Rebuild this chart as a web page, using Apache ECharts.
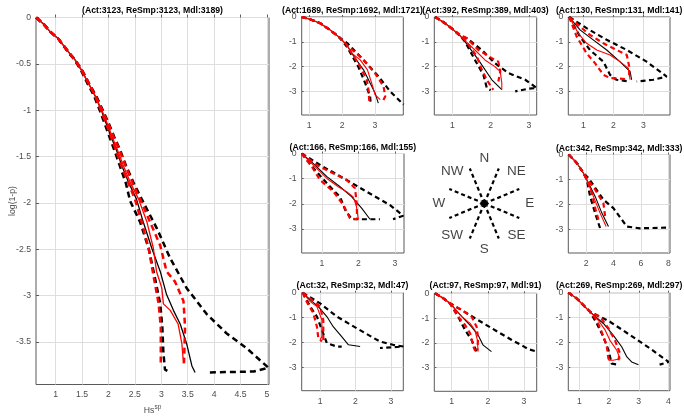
<!DOCTYPE html>
<html><head><meta charset="utf-8">
<script src="https://cdn.jsdelivr.net/npm/echarts@6/dist/echarts.min.js"></script>
<style>html,body{margin:0;padding:0;background:#fff}#c{width:684px;height:420px}</style>
</head><body><div id="c"></div><script>
// ---------- titles / ticks ----------
const panelTitles = ['(Act:3123, ReSmp:3123, Mdl:3189)','(Act:1689, ReSmp:1692, Mdl:1721)','(Act:392, ReSmp:389, Mdl:403)','(Act:130, ReSmp:131, Mdl:141)','(Act:166, ReSmp:166, Mdl:155)','(Act:342, ReSmp:342, Mdl:333)','(Act:32, ReSmp:32, Mdl:47)','(Act:97, ReSmp:97, Mdl:91)','(Act:269, ReSmp:269, Mdl:297)'];
const panelXRange = [[0.627,5.04],[0.77,3.86],[0.53,3.2],[0.5,3.89],[0.45,3.25],[0.7,8.12],[0.48,3.35],[0.52,3.35],[0.63,4.05]];
const panelXTicks = [[1,1.5,2,2.5,3,3.5,4,4.5,5],[1,2,3],[1,2,3],[1,2,3],[1,2,3],[2,4,6,8],[1,2,3],[1,2,3],[1,2,3,4]];
const mainYTicks = [0,-0.5,-1,-1.5,-2,-2.5,-3,-3.5];
const smallYTicks = [0,-1,-2,-3];
const mainYRange = [-3.96,0];
const smallYRange = [-3.95,0];
const compassLabels = ['E','NE','N','NW','W','SW','S','SE'];
const compassLabelAngles = [0,45,90,135,180,225,270,315];
const compassSpokeAngles = [22.5,67.5,112.5,157.5,202.5,247.5,292.5,337.5];

// ---------- main panel ----------
const mainBlkLo = [[0.63,0],[0.77,-0.07],[0.89,-0.15],[1.05,-0.23],[1.23,-0.37],[1.36,-0.46],[1.48,-0.57],[1.6,-0.71],[1.73,-0.85],[1.84,-1.01],[1.93,-1.15],[2.02,-1.29],[2.11,-1.43],[2.22,-1.61],[2.33,-1.79],[2.41,-1.98],[2.6,-2.21],[2.76,-2.49],[2.88,-2.81],[2.98,-3.09],[3.02,-3.34],[3.04,-3.62],[3.07,-3.8],[3.17,-3.83]];
const mainBlkHi = [[0.63,0],[0.77,-0.07],[0.89,-0.15],[1.05,-0.23],[1.24,-0.37],[1.37,-0.46],[1.5,-0.57],[1.63,-0.71],[1.77,-0.85],[1.9,-1.01],[2.01,-1.15],[2.11,-1.29],[2.22,-1.43],[2.34,-1.61],[2.48,-1.79],[2.63,-1.96],[2.92,-2.28],[3.17,-2.6],[3.48,-2.92],[3.86,-3.2],[4.24,-3.41],[4.62,-3.57],[5.03,-3.78],[4.75,-3.82],[3.86,-3.83]];
const mainBlk = [[0.63,0],[0.77,-0.07],[0.89,-0.15],[1.05,-0.23],[1.24,-0.37],[1.37,-0.46],[1.49,-0.57],[1.62,-0.71],[1.75,-0.85],[1.87,-1.01],[1.96,-1.15],[2.05,-1.29],[2.15,-1.43],[2.26,-1.61],[2.39,-1.79],[2.53,-1.96],[2.66,-2.21],[2.82,-2.49],[2.98,-2.74],[3.1,-2.99],[3.23,-3.16],[3.36,-3.31],[3.48,-3.52],[3.58,-3.76],[3.64,-3.83]];
const mainRed = [[0.63,0],[0.77,-0.07],[0.89,-0.15],[1.05,-0.23],[1.24,-0.37],[1.37,-0.46],[1.49,-0.57],[1.62,-0.71],[1.75,-0.85],[1.88,-1.01],[1.98,-1.15],[2.07,-1.29],[2.17,-1.43],[2.29,-1.61],[2.42,-1.79],[2.57,-1.96],[2.73,-2.21],[2.85,-2.49],[2.91,-2.74],[3.01,-2.92],[3.04,-3.09],[3.17,-3.16],[3.32,-3.31],[3.39,-3.52],[3.42,-3.73]];
const mainRedLo = [[0.63,0],[0.77,-0.07],[0.89,-0.15],[1.05,-0.23],[1.24,-0.37],[1.37,-0.46],[1.49,-0.57],[1.62,-0.71],[1.75,-0.85],[1.86,-1.01],[1.96,-1.15],[2.05,-1.29],[2.14,-1.43],[2.25,-1.61],[2.38,-1.79],[2.5,-1.96],[2.63,-2.21],[2.76,-2.49],[2.86,-2.81],[2.95,-3.09],[2.99,-3.34],[2.99,-3.73]];
const mainRedHi = [[0.63,0],[0.77,-0.07],[0.89,-0.15],[1.05,-0.23],[1.24,-0.37],[1.37,-0.46],[1.5,-0.57],[1.63,-0.71],[1.76,-0.85],[1.89,-1.01],[2.0,-1.15],[2.1,-1.29],[2.21,-1.43],[2.33,-1.61],[2.46,-1.79],[2.6,-1.96],[2.79,-2.21],[2.98,-2.46],[3.1,-2.74],[3.26,-2.85],[3.42,-3.06],[3.45,-3.34],[3.43,-3.73]];

// ---------- panel A (1689) ----------
const aBlkLo = [[0.77,0],[1.02,-0.09],[1.33,-0.25],[1.63,-0.52],[1.89,-0.79],[2.14,-1.19],[2.49,-2.0],[2.7,-2.66],[2.85,-3.2],[2.87,-3.53]];
const aBlkHi = [[0.77,0],[1.02,-0.09],[1.33,-0.25],[1.63,-0.52],[1.89,-0.79],[2.16,-1.06],[2.65,-1.73],[3.11,-2.4],[3.46,-3.0],[3.87,-3.53]];
const aBlk = [[0.77,0],[1.02,-0.09],[1.33,-0.25],[1.63,-0.52],[1.89,-0.79],[2.14,-1.12],[2.29,-1.46],[2.65,-2.13],[2.85,-2.66],[3.0,-3.06],[3.1,-3.47]];
const aRed = [[0.77,0],[1.02,-0.09],[1.33,-0.25],[1.63,-0.52],[1.89,-0.79],[2.14,-1.12],[2.29,-1.46],[2.55,-1.73],[2.77,-2.13],[2.93,-2.8],[3.0,-3.13],[3.16,-3.33]];
const aRedLo = [[0.77,0],[1.02,-0.09],[1.33,-0.25],[1.63,-0.52],[1.89,-0.79],[2.14,-1.12],[2.29,-1.46],[2.55,-2.0],[2.75,-2.53],[2.8,-2.93],[2.83,-3.47]];
const aRedHi = [[0.77,0],[1.02,-0.09],[1.33,-0.25],[1.63,-0.52],[1.89,-0.79],[2.19,-1.19],[2.6,-1.66],[3.0,-2.26],[3.26,-2.8],[3.31,-3.2],[3.21,-3.47]];

// ---------- panel B (392) ----------
const bBlkLo = [[0.55,0],[0.81,-0.25],[1.03,-0.52],[1.2,-0.75],[1.33,-0.99],[1.59,-1.73],[1.81,-2.33],[1.9,-2.86],[2.0,-2.95]];
const bBlkHi = [[0.55,0],[0.81,-0.25],[1.03,-0.52],[1.2,-0.75],[1.38,-0.86],[1.77,-1.33],[2.11,-1.86],[2.46,-2.26],[2.9,-2.53],[3.2,-2.86],[2.98,-2.89],[2.64,-3.0]];
const bBlk = [[0.55,0],[0.81,-0.25],[1.03,-0.52],[1.2,-0.75],[1.33,-0.99],[1.68,-1.73],[2.03,-2.53],[2.29,-2.93]];
const bRed = [[0.55,0],[0.81,-0.25],[1.03,-0.52],[1.2,-0.75],[1.33,-0.95],[1.59,-1.33],[1.85,-1.73],[2.11,-2.0],[2.25,-2.2],[2.29,-2.66],[2.29,-2.93]];
const bRedLo = [[0.55,0],[0.81,-0.25],[1.03,-0.52],[1.2,-0.75],[1.33,-0.92],[1.64,-1.59],[1.77,-2.13],[1.9,-2.53],[2.03,-2.86],[2.07,-2.93]];
const bRedHi = [[0.55,0],[0.81,-0.25],[1.03,-0.52],[1.2,-0.72],[1.38,-0.86],[1.68,-1.33],[2.03,-1.66],[2.2,-1.8],[2.25,-2.2],[2.2,-2.6]];

// ---------- panel C (130) ----------
const cBlkLo = [[0.53,0],[0.89,-0.79],[1.22,-1.33],[1.67,-1.8],[1.89,-2.33],[2.11,-2.53],[2.56,-2.6]];
const cBlkHi = [[0.53,0],[1.11,-0.45],[1.78,-0.92],[2.45,-1.33],[3.11,-1.8],[3.78,-2.4],[3.33,-2.53],[2.78,-2.6]];
const cBlk = [[0.53,0],[0.89,-0.52],[1.33,-0.92],[1.78,-1.33],[2.22,-1.8],[2.56,-2.2],[2.61,-2.53]];
const cRed = [[0.53,0],[0.83,-0.65],[1.11,-1.06],[1.45,-1.33],[1.89,-1.53],[2.22,-1.8],[2.5,-2.06],[2.56,-2.53]];
const cRedLo = [[0.53,0],[0.78,-0.79],[1.11,-1.46],[1.39,-1.86],[1.67,-2.33],[1.89,-2.46],[2.4,-2.5]];
const cRedHi = [[0.53,0],[0.89,-0.39],[1.22,-0.72],[1.67,-1.06],[2.11,-1.33],[2.45,-1.53],[2.53,-2.0],[2.53,-2.46]];

// ---------- panel D (166) ----------
const dBlkLo = [[0.45,0],[0.82,-0.66],[1.18,-1.25],[1.5,-1.72],[1.64,-2.24],[1.82,-2.61],[2.59,-2.61]];
const dBlkHi = [[0.45,0],[1.04,-0.53],[1.68,-1.05],[2.23,-1.52],[2.86,-2.04],[3.23,-2.47],[2.95,-2.61]];
const dBlk = [[0.45,0],[0.77,-0.4],[1.14,-0.92],[1.5,-1.32],[1.82,-1.72],[2.09,-2.17],[2.32,-2.61]];
const dRed = [[0.45,0],[0.77,-0.46],[1.14,-0.99],[1.45,-1.32],[1.68,-1.52],[1.86,-1.72],[1.95,-2.11],[2.0,-2.61]];
const dRedLo = [[0.45,0],[0.73,-0.53],[0.95,-1.05],[1.32,-1.52],[1.59,-2.04],[1.77,-2.57],[1.97,-2.61]];
const dRedHi = [[0.45,0],[0.86,-0.46],[1.32,-0.79],[1.68,-1.05],[1.91,-1.38],[1.95,-1.91],[1.97,-2.61]];

// ---------- panel E (342) ----------
const eBlkLo = [[0.72,0],[1.32,-0.34],[1.8,-0.74],[2.05,-1.01],[2.29,-1.68],[2.66,-2.35],[3.02,-2.96]];
const eBlkHi = [[0.72,0],[1.32,-0.34],[1.8,-0.74],[2.17,-0.94],[3.26,-1.81],[3.99,-2.15],[4.97,-2.89],[5.94,-2.96],[8.01,-2.93]];
const eBlk = [[0.72,0],[1.32,-0.34],[1.8,-0.74],[2.05,-1.01],[2.66,-1.68],[3.15,-2.35],[3.63,-2.89]];
const eRed = [[0.72,0],[1.32,-0.34],[1.8,-0.74],[2.05,-1.01],[2.53,-1.68],[3.02,-2.35],[3.46,-2.89]];
const eRedLo = [[0.72,0],[1.32,-0.34],[1.8,-0.74],[2.05,-1.01],[2.42,-1.55],[2.66,-2.15],[2.9,-2.62]];
const eRedHi = [[0.72,0],[1.32,-0.34],[1.8,-0.74],[2.1,-1.0],[2.66,-1.41],[3.26,-1.95],[3.39,-2.49]];

// ---------- panel F (32) ----------
const fBlkLo = [[0.51,0],[0.72,-0.56],[0.91,-0.96],[1.05,-1.5],[1.19,-2.03],[1.47,-2.17],[1.61,-2.17]];
const fBlkHi = [[0.51,0],[1.0,-0.43],[1.47,-0.96],[2.03,-1.43],[2.69,-1.97],[3.06,-2.1],[3.35,-2.17],[2.69,-2.23]];
const fBlk = [[0.51,0],[0.72,-0.29],[0.95,-0.56],[1.19,-0.96],[1.37,-1.37],[1.61,-1.77],[1.8,-2.1],[2.13,-2.17]];
const fRed = [[0.51,0],[0.72,-0.36],[0.91,-0.56],[1.05,-1.1],[1.05,-1.77],[1.0,-1.9]];
const fRedLo = [[0.51,0],[0.62,-0.36],[0.81,-0.83],[0.91,-1.37],[0.95,-1.83],[1.05,-1.97]];
const fRedHi = [[0.51,0],[0.77,-0.29],[1.0,-0.56],[1.09,-1.1],[1.09,-1.77],[1.09,-2.03]];

// ---------- panel G (97) ----------
const gBlkLo = [[0.54,0],[0.77,-0.2],[0.95,-0.4],[1.18,-0.94],[1.37,-1.48],[1.55,-1.88],[1.69,-2.35]];
const gBlkHi = [[0.54,0],[0.77,-0.2],[0.95,-0.4],[1.3,-0.7],[1.73,-1.08],[2.19,-1.48],[2.66,-1.88],[3.0,-2.15],[3.12,-2.25],[3.35,-2.35]];
const gBlk = [[0.54,0],[0.77,-0.2],[0.95,-0.4],[1.28,-0.94],[1.55,-1.35],[1.73,-1.68],[1.87,-2.09],[2.1,-2.35]];
const gRed = [[0.54,0],[0.77,-0.2],[0.95,-0.4],[1.28,-0.94],[1.51,-1.21],[1.64,-1.48],[1.71,-1.88],[1.73,-2.35]];
const gRedLo = [[0.54,0],[0.77,-0.2],[0.95,-0.4],[1.18,-0.94],[1.37,-1.28],[1.51,-1.61],[1.6,-2.15],[1.64,-2.29],[1.7,-2.35]];
const gRedHi = [[0.54,0],[0.77,-0.2],[0.95,-0.4],[1.28,-0.67],[1.55,-0.94],[1.69,-1.35],[1.73,-1.82],[1.71,-2.29]];

// ---------- panel H (269) ----------
const hBlkLo = [[0.63,0],[0.91,-0.23],[1.19,-0.57],[1.36,-0.77],[1.59,-1.24],[1.81,-1.78],[1.98,-2.32],[2.09,-2.86],[2.3,-2.9]];
const hBlkHi = [[0.63,0],[0.91,-0.23],[1.19,-0.57],[1.36,-0.77],[2.03,-1.17],[2.71,-1.71],[3.38,-2.25],[4.0,-2.79],[3.7,-2.9]];
const hBlk = [[0.63,0],[0.91,-0.23],[1.19,-0.57],[1.36,-0.77],[1.81,-1.24],[2.14,-1.71],[2.43,-2.19],[2.6,-2.59],[2.76,-2.79],[2.99,-2.9]];
const hRed = [[0.63,0],[0.91,-0.23],[1.19,-0.57],[1.36,-0.77],[1.64,-1.11],[1.87,-1.51],[2.03,-1.92],[2.26,-2.32],[2.37,-2.66],[2.14,-2.72],[1.98,-2.72]];
const hRedLo = [[0.63,0],[0.91,-0.23],[1.19,-0.57],[1.36,-0.77],[1.59,-1.11],[1.75,-1.58],[1.92,-2.12],[1.98,-2.66],[2.09,-2.79]];
const hRedHi = [[0.63,0],[0.91,-0.23],[1.19,-0.57],[1.36,-0.77],[1.7,-0.97],[1.98,-1.44],[2.2,-1.92],[2.37,-2.45],[2.31,-2.72]];

const panelData = [
  [mainBlkLo, mainBlkHi, mainBlk, mainRedLo, mainRedHi, mainRed],
  [aBlkLo, aBlkHi, aBlk, aRedLo, aRedHi, aRed],
  [bBlkLo, bBlkHi, bBlk, bRedLo, bRedHi, bRed],
  [cBlkLo, cBlkHi, cBlk, cRedLo, cRedHi, cRed],
  [dBlkLo, dBlkHi, dBlk, dRedLo, dRedHi, dRed],
  [eBlkLo, eBlkHi, eBlk, eRedLo, eRedHi, eRed],
  [fBlkLo, fBlkHi, fBlk, fRedLo, fRedHi, fRed],
  [gBlkLo, gBlkHi, gBlk, gRedLo, gRedHi, gRed],
  [hBlkLo, hBlkHi, hBlk, hRedLo, hRedHi, hRed]
];

// ---------- layout (styles) ----------
const grids = [
  {left:36, top:17.5, width:233, height:373.5},
  {left:301.7, top:17, width:101.6, height:98},
  {left:434.3, top:17, width:102.4, height:98},
  {left:568.3, top:17, width:101.7, height:98},
  {left:301.7, top:153.5, width:102.3, height:99.5},
  {left:568.3, top:154.5, width:101.7, height:98.5},
  {left:301.7, top:292.7, width:101.6, height:98},
  {left:434.3, top:293.3, width:102.4, height:98},
  {left:568.3, top:292.7, width:101.7, height:98}
];
const titleY = [10.5,10.5,10.5,10.5,148,148.5,285.5,285.5,285.5];

const FONT = '"Liberation Sans", Arial, Helvetica, sans-serif';
const tickColor = '#4d4d4d';
const xAxes = [], yAxes = [], series = [], gridOpts = [], graphics = [];

grids.forEach((g, i) => {
  gridOpts.push(Object.assign({show:true, borderColor:'#5a5a5a', borderWidth:1, containLabel:false}, g));
  const main = i === 0;
  const fs = 8.7;
  xAxes.push({
    type:'value', gridIndex:i, min:panelXRange[i][0], max:panelXRange[i][1],
    axisLine:{show:false},
    axisTick:{show:true, inside:true, length:main?3:2, customValues:panelXTicks[i], lineStyle:{color:'#5a5a5a'}},
    axisLabel:{customValues:panelXTicks[i], fontSize:fs, color:tickColor, margin:6, fontFamily:FONT},
    splitLine:{show:true, lineStyle:{color:'#dedede', width:1}},
    name: main ? 'Hs{s|sp}' : '', nameLocation:'middle', nameGap:19, nameMoveOverlap:false,
    nameTextStyle:{fontSize:fs, color:tickColor, fontFamily:FONT, rich:{s:{fontSize:6.5, color:tickColor, fontFamily:FONT, verticalAlign:'top', padding:[0,0,7,0]}}}
  });
  const yt = main ? mainYTicks : smallYTicks;
  const yr = main ? mainYRange : smallYRange;
  yAxes.push({
    type:'value', gridIndex:i, min:yr[0], max:yr[1],
    axisLine:{show:false},
    axisTick:{show:true, inside:true, length:main?3:2, customValues:yt, lineStyle:{color:'#5a5a5a'}},
    axisLabel:{customValues:yt, fontSize:fs, color:tickColor, margin:5, fontFamily:FONT},
    splitLine:{show:true, lineStyle:{color:'#dedede', width:1}},
    name: main ? 'log(1-p)' : '', nameLocation:'middle', nameGap:19, nameMoveOverlap:false,
    nameTextStyle:{fontSize:fs, color:tickColor, fontFamily:FONT}
  });
  const d = panelData[i];
  const dw = main ? 2.5 : 2.2;
  const dash = main ? [6,4] : [5,3.5];
  const sw = main ? 1.3 : 1.1;
  const specs = [
    [d[0], '#000', dw, dash, 2], [d[1], '#000', dw, dash, 2],
    [d[2], '#000', sw, 'solid', 3],
    [d[3], '#ff0000', dw, dash, 4], [d[4], '#ff0000', dw, dash, 4],
    [d[5], '#ff0000', sw, 'solid', 5]
  ];
  specs.forEach(s => series.push({
    type:'line', xAxisIndex:i, yAxisIndex:i, data:s[0], symbol:'none', showSymbol:false,
    lineStyle:{color:s[1], width:s[2], type:s[3], cap:'butt'}, z:s[4], silent:true, animation:false, clip:true
  }));
  graphics.push({type:'text', x:g.left + g.width / 2, y:titleY[i],
    style:{text:panelTitles[i], font:'bold 8.7px ' + FONT, fill:'#000',
      textAlign:'center', textVerticalAlign:'middle', align:'center', verticalAlign:'middle'}});
});

// ---------- compass ----------
const ci = grids.length;
gridOpts.push({left:434.3, top:153.5, width:100, height:100, show:false});
xAxes.push({type:'value', gridIndex:ci, min:-1.32, max:1.32, show:false});
yAxes.push({type:'value', gridIndex:ci, min:-1.32, max:1.32, show:false});
compassSpokeAngles.forEach(a => {
  const r = a * Math.PI / 180;
  series.push({type:'line', xAxisIndex:ci, yAxisIndex:ci, symbol:'none', animation:false, silent:true,
    data:[[0,0],[Math.cos(r), Math.sin(r)]], lineStyle:{color:'#000', width:2.2, type:[4,3], cap:'butt'}});
});
series.push({type:'scatter', xAxisIndex:ci, yAxisIndex:ci, symbol:'path://M0,-5L1,-1L5,0L1,1L0,5L-1,1L-5,0L-1,-1Z M-3.5,-3.5L3.5,3.5 M3.5,-3.5L-3.5,3.5', symbolSize:9, animation:false, silent:true,
  itemStyle:{color:'#000', borderColor:'#000', borderWidth:1}, data:[[0,0]]});
series.push({type:'scatter', xAxisIndex:ci, yAxisIndex:ci, symbolSize:0, animation:false, silent:true,
  data: compassLabels.map((t, k) => {
    const r = compassLabelAngles[k] * Math.PI / 180;
    return {value:[1.2*Math.cos(r), 1.2*Math.sin(r)], name:t};
  }),
  label:{show:true, position:'inside', formatter:p => p.name, fontSize:13.5, color:'#111', fontFamily:FONT}
});

const chart = echarts.init(document.getElementById('c'), null, {renderer:'canvas'});
chart.setOption({
  animation:false, backgroundColor:'#fff',
  grid:gridOpts, xAxis:xAxes, yAxis:yAxes, series:series, graphic:graphics
});
</script></body></html>
